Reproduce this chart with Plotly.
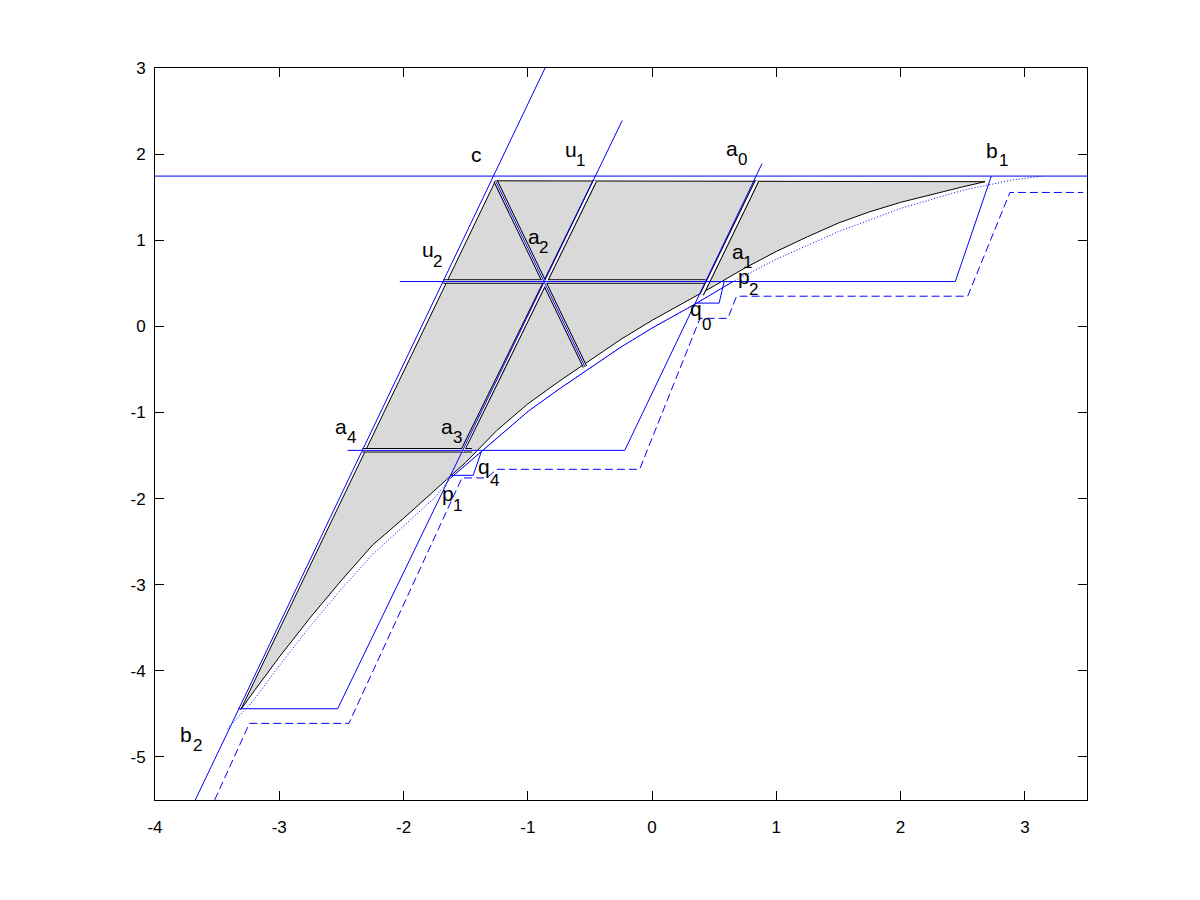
import plotly.graph_objects as go

# ---------------- data ----------------
x_ticks = [-4, -3, -2, -1, 0, 1, 2, 3]
x_tick_text = ["-4", "-3", "-2", "-1", "0", "1", "2", "3"]
y_ticks = [-5, -4, -3, -2, -1, 0, 1, 2, 3]
y_tick_text = ["-5", "-4", "-3", "-2", "-1", "0", "1", "2", "3"]

# long construction lines
c_line_x = [-3.676, -0.861]
c_line_y = [-5.5, 3.0]
u1_line_x = [-2.53, -0.24]
u1_line_y = [-4.44, 2.39]
top_line_x = [-4.0, 3.5]
top_line_y = [1.745, 1.745]

# solid blue staircase pieces
low_step_x = [-3.33, -2.53]
low_step_y = [-4.44, -4.44]
q4_box_x = [-1.62, -1.44, -1.37]
q4_box_y = [-1.73, -1.73, -1.44]
a4_a0_x = [-2.45, -0.22, 0.885]
a4_a0_y = [-1.44, -1.44, 1.89]
q0_box_x = [0.36, 0.54, 0.58]
q0_box_y = [0.27, 0.27, 0.52]
u2_step_x = [-2.03, 2.44, 2.73]
u2_step_y = [0.52, 0.52, 1.745]

# dashed blue staircase
dash_x = [-3.52, -3.24, -2.44, -1.53, -1.33, -1.25, -0.10, 0.386, 0.61, 0.68, 2.54, 2.88, 3.47]
dash_y = [-5.5, -4.61, -4.61, -1.76, -1.76, -1.66, -1.66, 0.093, 0.093, 0.35, 0.35, 1.555, 1.555]

# blue lower curve (dotted overall, solid between p1 and p2)
blue_x = [-3.42, -3.2, -3.0, -2.75, -2.5, -2.25, -2.0, -1.75, -1.62, -1.25, -1.0, -0.75,
          -0.5, -0.25, 0.0, 0.36, 0.65, 1.0, 1.5, 2.0, 2.5, 2.9, 3.14]
blue_y = [-4.68, -4.33, -3.94, -3.48, -3.05, -2.65, -2.32, -1.99, -1.76, -1.30, -0.99, -0.73,
          -0.48, -0.24, -0.02, 0.27, 0.52, 0.78, 1.10, 1.37, 1.58, 1.70, 1.745]
p1_index = 8
p2_index = 16

# gray region: top edge, black lower curve, left edge along c line
curve_x = [2.68, 2.5, 2.25, 2.0, 1.75, 1.5, 1.25, 1.0, 0.75, 0.5, 0.25, 0.0, -0.25, -0.5,
           -0.75, -1.0, -1.25, -1.5, -1.75, -2.0, -2.25, -2.5, -2.75, -3.0, -3.2, -3.31]
curve_y = [1.68, 1.62, 1.53, 1.44, 1.33, 1.20, 1.04, 0.87, 0.68, 0.47, 0.27, 0.07, -0.15, -0.39,
           -0.64, -0.90, -1.21, -1.58, -1.91, -2.23, -2.54, -2.95, -3.38, -3.84, -4.23, -4.45]
gray_top_x = [-1.26, 2.68]
gray_top_y = [1.69, 1.68]

# interior dividing lines of the gray region (drawn as double lines)
div_lines = [
    ([-1.26, -0.54], [1.69, -0.47]),     # c -> lower curve
    ([-0.46, -1.53], [1.69, -1.46]),     # along u1
    ([0.845, 0.40], [1.69, 0.37]),       # along a0
    ([-1.68, 0.43], [0.52, 0.52]),       # u2 level
    ([-2.33, -1.45], [-1.44, -1.44]),    # a4 level
]

# labels: (letter, letter x, letter y, index, index x, index y)
labels = [
    ("c", -1.409, 1.996, "", 0, 0),
    ("u", -0.652, 2.054, "1", -0.572, 1.921),
    ("a", 0.643, 2.066, "0", 0.724, 1.932),
    ("b", 2.735, 2.037, "1", 2.824, 1.921),
    ("u", -1.803, 0.893, "2", -1.723, 0.748),
    ("a", -0.950, 1.044, "2", -0.870, 0.910),
    ("a", 0.691, 0.868, "1", 0.764, 0.745),
    ("p", 0.740, 0.581, "2", 0.820, 0.424),
    ("q", 0.354, 0.208, "0", 0.434, 0.016),
    ("a", -2.503, -1.162, "4", -2.415, -1.296),
    ("a", -1.650, -1.162, "3", -1.562, -1.296),
    ("q", -1.352, -1.627, "4", -1.272, -1.795),
    ("p", -1.642, -1.940, "1", -1.562, -2.085),
    ("b", -3.750, -4.745, "2", -3.662, -4.872),
]

# ---------------- figure ----------------
BLUE = "rgb(0,0,255)"
fig = go.Figure()


def add_line(x, y, color=BLUE, width=1, dash="solid"):
    fig.add_trace(go.Scatter(x=x, y=y, mode="lines",
                             line=dict(color=color, width=width, dash=dash),
                             hoverinfo="skip", showlegend=False))


# gray patch with black edge
gray_x = gray_top_x + curve_x + [gray_top_x[0]]
gray_y = gray_top_y + curve_y + [gray_top_y[0]]
fig.add_trace(go.Scatter(x=gray_x, y=gray_y, mode="lines", fill="toself",
                         fillcolor="rgb(217,217,217)",
                         line=dict(color="black", width=1),
                         hoverinfo="skip", showlegend=False))

# double dividing lines
for dx, dy in div_lines:
    add_line(dx, dy, color="black", width=4.5)
for dx, dy in div_lines:
    add_line(dx, dy, color="white", width=2.5)

# blue construction lines
add_line(top_line_x, top_line_y)
add_line(c_line_x, c_line_y)
add_line(u1_line_x, u1_line_y)
add_line(low_step_x, low_step_y)
add_line(q4_box_x, q4_box_y)
add_line(a4_a0_x, a4_a0_y)
add_line(q0_box_x, q0_box_y)
add_line(u2_step_x, u2_step_y)
add_line(div_lines[0][0], div_lines[0][1])

# dashed staircase
add_line(dash_x, dash_y, dash="8px,4px")

# blue lower curve
add_line(blue_x, blue_y, dash="1px,2px")
add_line(blue_x[p1_index:p2_index + 1], blue_y[p1_index:p2_index + 1])

# labels
FONT = "Liberation Sans, Arial, Helvetica, sans-serif"
for letter, lx, ly, idx, ix, iy in labels:
    fig.add_annotation(x=lx, y=ly, text=letter, showarrow=False,
                       xanchor="center", yanchor="middle",
                       font=dict(family=FONT, size=21, color="black"))
    if idx:
        fig.add_annotation(x=ix, y=iy, text=idx, showarrow=False,
                           xanchor="center", yanchor="middle",
                           font=dict(family=FONT, size=17, color="black"))

axis_common = dict(showgrid=False, zeroline=False, showline=True, linecolor="black",
                   linewidth=1, mirror="ticks", ticks="inside", ticklen=9,
                   tickcolor="black", tickwidth=1,
                   tickfont=dict(family=FONT, size=17, color="black"))

fig.update_layout(
    width=1200, height=900,
    margin=dict(l=155, r=113, t=68, b=100),
    paper_bgcolor="white", plot_bgcolor="white",
    xaxis=dict(range=[-4, 3.5], tickvals=x_ticks, ticktext=x_tick_text,
               ticklabelstandoff=12, **axis_common),
    yaxis=dict(range=[-5.5, 3], tickvals=y_ticks, ticktext=y_tick_text,
               ticklabelstandoff=5, **axis_common),
    showlegend=False,
)

fig.write_html("out.html", config={"displayModeBar": False},
               post_script="document.body.style.margin='0';")
